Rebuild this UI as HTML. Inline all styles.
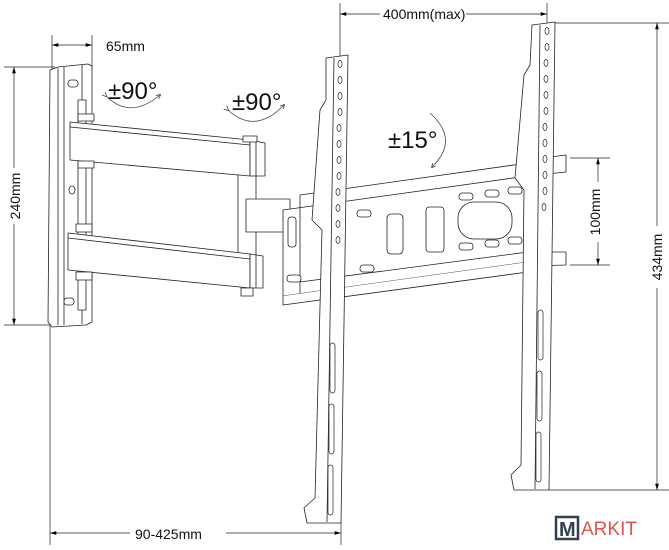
<!DOCTYPE html>
<html><head><style>
html,body{margin:0;padding:0;background:#fff;}
svg{display:block;}
text{font-family:"Liberation Sans",Arial,sans-serif;fill:#111;}
</style></head><body>
<svg width="669" height="550" viewBox="0 0 669 550" xmlns="http://www.w3.org/2000/svg">
<defs>
<marker id="a" viewBox="0 0 10 10" refX="10" refY="5" markerWidth="9" markerHeight="9" orient="auto-start-reverse"><path d="M0,2 L10,5 L0,8 z" fill="#000"/></marker>
<marker id="c" viewBox="0 0 10 10" refX="8" refY="5" markerWidth="6" markerHeight="6" orient="auto"><path d="M0,0 L10,5 L0,10" fill="none" stroke="#333" stroke-width="1.5"/></marker>
</defs>
<g stroke="#222" stroke-width="0.7" fill="none">
<line x1="52" y1="35" x2="52" y2="70"/><line x1="92" y1="35" x2="92" y2="70"/>
<line x1="52" y1="45" x2="92" y2="45" marker-start="url(#a)" marker-end="url(#a)"/>
<line x1="4" y1="67" x2="55" y2="67"/><line x1="4" y1="325" x2="55" y2="325"/>
<line x1="14" y1="67" x2="14" y2="325" marker-start="url(#a)" marker-end="url(#a)"/>
<line x1="340" y1="3" x2="340" y2="60"/><line x1="547" y1="3" x2="547" y2="25"/>
<line x1="340" y1="14" x2="547" y2="14" marker-start="url(#a)" marker-end="url(#a)"/>
<line x1="555" y1="23" x2="669" y2="23"/><line x1="548" y1="490" x2="669" y2="490"/>
<line x1="657" y1="23" x2="657" y2="490" marker-start="url(#a)" marker-end="url(#a)"/>
<line x1="570" y1="158" x2="610" y2="158"/><line x1="570" y1="265" x2="610" y2="265"/>
<line x1="598" y1="158" x2="598" y2="265" marker-start="url(#a)" marker-end="url(#a)"/>
<line x1="50" y1="325" x2="50" y2="545"/><line x1="341" y1="520" x2="341" y2="545"/>
<line x1="50" y1="533" x2="341" y2="533" marker-start="url(#a)" marker-end="url(#a)"/>
</g>
<g fill="#fff">
<rect x="380" y="5" width="86" height="18"/>
<rect x="5" y="168" width="20" height="56"/>
<rect x="590" y="182" width="18" height="60"/>
<rect x="648" y="226" width="18" height="62"/>
<rect x="130" y="525" width="96" height="18"/>
</g>
<g stroke="#444" stroke-width="0.8" fill="none">
<path d="M106,96 Q130,120 160,95" marker-end="url(#c)" marker-start="url(#c)"/>
<path d="M228,110 Q255,135 284,105" marker-end="url(#c)" marker-start="url(#c)"/>
<path d="M430,113 Q460,140 432,167" marker-end="url(#c)"/>
</g>
<text x="108" y="99" font-size="24">±90°</text>
<text x="232" y="110" font-size="24">±90°</text>
<text x="388" y="148" font-size="24">±15°</text>
<text x="106" y="51" font-size="14">65mm</text>
<text x="383" y="19" font-size="14">400mm(max)</text>
<text x="135" y="539" font-size="14">90-425mm</text>
<text font-size="14" transform="translate(20,196) rotate(-90)" text-anchor="middle">240mm</text>
<text font-size="14" transform="translate(600,212) rotate(-90)" text-anchor="middle">100mm</text>
<text font-size="14" transform="translate(662,257) rotate(-90)" text-anchor="middle">434mm</text>
<g stroke="#222" stroke-width="0.8" fill="#fff" stroke-linejoin="round">
<path d="M50,70 L58,67 L88,64 L92,66 L92,322 L86,325 L52,327 L48,322 Z"/>
<line x1="58" y1="68" x2="58" y2="325"/><line x1="64" y1="67" x2="64" y2="325"/>
<line x1="82" y1="65" x2="82" y2="324"/>
<rect x="68" y="80" width="10" height="7" rx="3"/><rect x="64" y="298" width="10" height="7" rx="3"/>
<ellipse cx="72" cy="190" rx="3" ry="4"/>
<rect x="78" y="100" width="8" height="210"/>
<rect x="238" y="170" width="18" height="85"/>
<path d="M70,122 L250,140 L250,176 L70,160 Z"/>
<line x1="70" y1="127" x2="250" y2="145"/>
<path d="M250,140 L265,143 L265,176 L250,176 Z"/><line x1="256" y1="141" x2="256" y2="176"/>
<rect x="243" y="136" width="14" height="6"/>
<rect x="78" y="114" width="16" height="7"/><rect x="78" y="161" width="16" height="7"/>
<path d="M68,233 L250,254 L250,288 L68,270 Z"/>
<line x1="68" y1="238" x2="250" y2="259"/>
<path d="M250,254 L263,256 L263,288 L250,288 Z"/><line x1="256" y1="255" x2="256" y2="288"/>
<rect x="241" y="288" width="12" height="8"/>
<rect x="76" y="224" width="16" height="8"/><rect x="76" y="272" width="16" height="8"/>
<rect x="246" y="199" width="44" height="33"/>
<!-- small right tabs -->
<path d="M528,160 L566,155 L566,172 L528,176 Z"/>
<path d="M528,252 L566,252 L566,265 L528,266 Z"/>
<!-- main plate -->
<path d="M300,195 L528,163 L528,176 L300,208 Z"/>
<path d="M283,210 L528,176 L528,262 L283,296 Z"/>
<line x1="300" y1="207" x2="300" y2="294"/>
<line x1="300" y1="282" x2="528" y2="252"/>
<path d="M283,296 L283,305 L528,272 L528,262"/>
<rect x="288" y="217" width="8" height="30" rx="3"/>
<rect x="426" y="207" width="18" height="45" rx="3"/>
<rect x="458" y="202" width="54" height="37" rx="16"/>
<rect x="387" y="214" width="16" height="40" rx="4"/>
<rect x="459" y="193" width="14" height="7" rx="3"/><rect x="485" y="190" width="14" height="7" rx="3"/><rect x="508" y="187" width="14" height="7" rx="3"/>
<rect x="459" y="243" width="14" height="7" rx="3"/><rect x="485" y="240" width="14" height="7" rx="3"/><rect x="508" y="237" width="14" height="7" rx="3"/>
<rect x="287" y="275" width="14" height="7" rx="3"/><rect x="360" y="265" width="14" height="7" rx="3"/><rect x="357" y="210" width="14" height="7" rx="3"/>
<path d="M326,58 L348,55 L341,523 L307,523 L304,508 L315,498 L322,230 L312,220 L320,110 L326,100 Z"/>
<line x1="334" y1="58" x2="327" y2="522"/>
<path d="M532,25 L555,22 L549,490 L514,490 L511,475 L521,465 L524,190 L515,178 L524,75 L530,65 Z"/>
<line x1="540" y1="25" x2="535" y2="489"/>
</g>
<g stroke="#222" stroke-width="0.7" fill="none">
<ellipse cx="340" cy="64" rx="2" ry="3.5"/><ellipse cx="340" cy="80" rx="2" ry="3.5"/><ellipse cx="340" cy="96" rx="2" ry="3.5"/><ellipse cx="340" cy="112" rx="2" ry="3.5"/><ellipse cx="339" cy="128" rx="2" ry="3.5"/><ellipse cx="339" cy="144" rx="2" ry="3.5"/><ellipse cx="339" cy="160" rx="2" ry="3.5"/><ellipse cx="339" cy="176" rx="2" ry="3.5"/><ellipse cx="338" cy="192" rx="2" ry="3.5"/><ellipse cx="338" cy="208" rx="2" ry="3.5"/><ellipse cx="338" cy="224" rx="2" ry="3.5"/><ellipse cx="338" cy="240" rx="2" ry="3.5"/>
<rect x="330" y="343" width="5" height="50" rx="2.5"/><rect x="329" y="404" width="5" height="50" rx="2.5"/><rect x="328" y="465" width="5" height="50" rx="2.5"/>
<ellipse cx="547" cy="31" rx="2" ry="3.5"/><ellipse cx="547" cy="47" rx="2" ry="3.5"/><ellipse cx="546" cy="63" rx="2" ry="3.5"/><ellipse cx="546" cy="79" rx="2" ry="3.5"/><ellipse cx="546" cy="95" rx="2" ry="3.5"/><ellipse cx="546" cy="111" rx="2" ry="3.5"/><ellipse cx="545" cy="127" rx="2" ry="3.5"/><ellipse cx="545" cy="143" rx="2" ry="3.5"/><ellipse cx="545" cy="159" rx="2" ry="3.5"/><ellipse cx="545" cy="175" rx="2" ry="3.5"/><ellipse cx="545" cy="191" rx="2" ry="3.5"/><ellipse cx="544" cy="207" rx="2" ry="3.5"/>
<rect x="538" y="310" width="5" height="50" rx="2.5"/><rect x="537" y="371" width="5" height="50" rx="2.5"/><rect x="536" y="432" width="5" height="50" rx="2.5"/>
</g>
<rect x="556" y="517" width="22" height="22" fill="none" stroke="#34404e" stroke-width="2.5"/>
<text x="559" y="536" font-size="20" font-weight="bold" style="fill:#34404e">M</text>
<text x="581" y="535" font-size="19" style="fill:#e0544e">ARKIT</text>
</svg>
</body></html>
